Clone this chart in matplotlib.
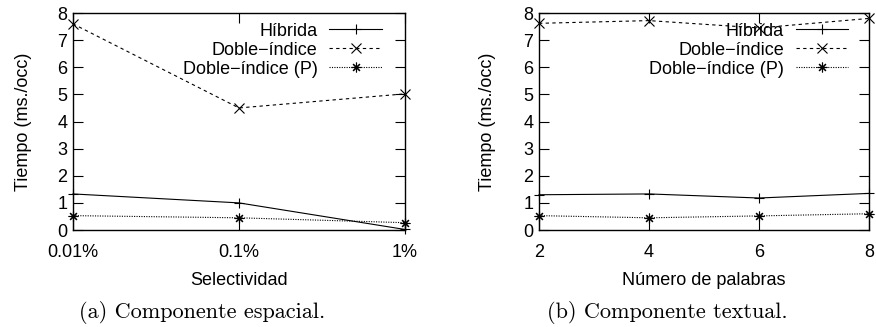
import matplotlib
matplotlib.use('Agg')
import matplotlib.pyplot as plt

plt.rcParams['font.family'] = ['Liberation Sans', 'DejaVu Sans']
plt.rcParams['font.size'] = 13

# left panel: spatial component
sel_labels = ['0.01%', '0.1%', '1%']
sel_x = [0.01, 0.1, 1.0]
hib_a = [1.33, 1.0, 0.02]
doble_a = [7.6, 4.5, 5.02]
doble_p_a = [0.53, 0.45, 0.27]

# right panel: textual component
words = [2, 4, 6, 8]
hib_b = [1.3, 1.33, 1.18, 1.35]
doble_b = [7.62, 7.72, 7.45, 7.8]
doble_p_b = [0.53, 0.45, 0.52, 0.6]

names = ['Híbrida', 'Doble\u2212índice', 'Doble\u2212índice (P)']
star = (8, 2, 0)

fig = plt.figure(figsize=(8.76, 3.27), dpi=100)
ax1 = fig.add_axes([0.0833, 0.2966, 0.379, 0.6636])
ax2 = fig.add_axes([0.6153, 0.2966, 0.3767, 0.6636])


def draw(ax, x, hib, doble, dp, leg_x):
    kw = dict(color='black', lw=0.8, ms=7, mew=0.8, clip_on=False)
    ax.plot(x, hib, '-', marker='+', label=names[0], **kw)
    ax.plot(x, doble, marker='x', linestyle=(0, (3, 3)), label=names[1], **kw)
    ax.plot(x, dp, marker=star, linestyle=(0, (1, 1.2)), label=names[2], **kw)
    ax.set_ylim(0, 8)
    ax.set_yticks(range(0, 9))
    ax.set_ylabel('Tiempo (ms./occ)')
    ax.tick_params(direction='in', length=7, width=0.8, top=True, right=True,
                   labelsize=13)
    ax.tick_params(axis='x', pad=10)
    ax.tick_params(axis='y', pad=4)
    ax.tick_params(which='minor', length=0)
    for s in ax.spines.values():
        s.set_linewidth(1.0)
    ax.legend(loc='upper right', frameon=False, markerfirst=False,
              handlelength=2.9, handletextpad=0.65, labelspacing=0.11,
              borderaxespad=0.0, borderpad=0.4, fontsize=13,
              bbox_to_anchor=(leg_x, 0.989))


draw(ax1, sel_x, hib_a, doble_a, doble_p_a, 0.952)
ax1.set_xscale('log')
ax1.set_xlim(0.01, 1.0)
ax1.set_xticks(sel_x)
ax1.set_xticklabels(sel_labels)
ax1.minorticks_off()
ax1.set_xlabel('Selectividad', labelpad=8)
ax1.yaxis.set_label_coords(-0.123, 0.5)

draw(ax2, words, hib_b, doble_b, doble_p_b, 0.958)
ax2.set_xlim(2, 8)
ax2.set_xticks(words)
ax2.set_xlabel('Número de palabras', labelpad=8)
ax2.yaxis.set_label_coords(-0.13, 0.5)

fig.text(0.2306, 0.043, '(a) Componente espacial.', ha='center', va='center',
         family=['cmr10', 'DejaVu Serif'], fontsize=16)
fig.text(0.762, 0.043, '(b) Componente textual.', ha='center', va='center',
         family=['cmr10', 'DejaVu Serif'], fontsize=16)

fig.savefig('out.png', dpi=100)
